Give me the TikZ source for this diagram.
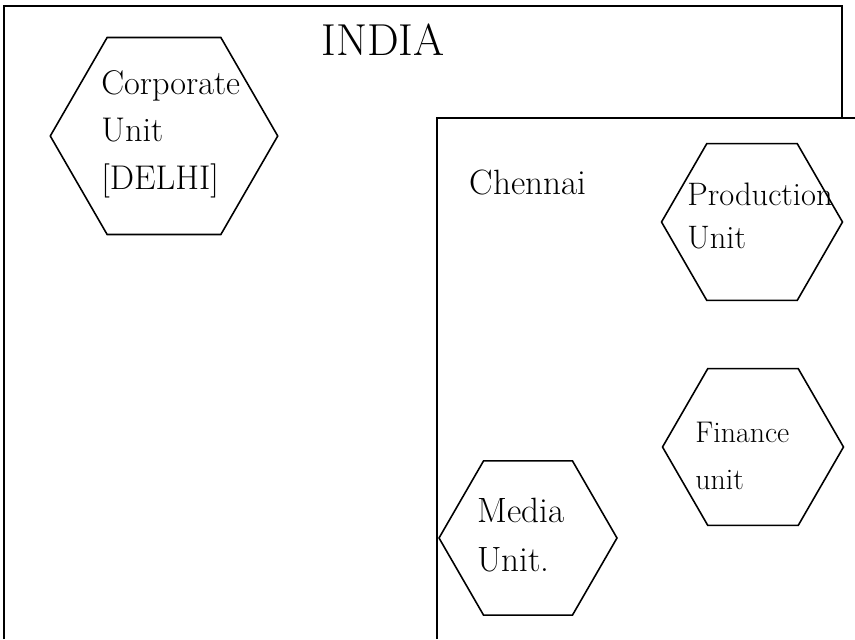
\documentclass[tikz,border=0pt]{standalone}
\usetikzlibrary{shapes.geometric}
\begin{document}
\begin{tikzpicture}[x=0.02cm,y=-0.02cm,
    hexa/.style={draw,line width=0.9pt,regular polygon,regular polygon sides=6,inner sep=0pt},
    unit/.style={anchor=west,align=left,inner sep=0pt},
    place/.style={font=\fontsize{#1}{28}\selectfont}]
  \useasboundingbox (0,0) rectangle (855,639);
  % country and city frames
  \draw[line width=1.2pt] (4,639)--(4,6)--(842,6)--(842,118);
  \draw[line width=1.2pt] (437,639)--(437,118)--(855,118);
  \node[place=25.5] (india) at (383,40) {INDIA};
  \node[place=20] (chennai) at (528,182) {Chennai};
  % units
  \node[hexa,minimum size=4.55cm] (corp) at (164,136) {};
  \node[hexa,minimum size=3.62cm] (prod) at (752,222) {};
  \node[hexa,minimum size=3.62cm] (fin) at (753,447) {};
  \node[hexa,minimum size=3.56cm] (media) at (528,538) {};
  \node[unit,font=\fontsize{19.5}{27}\selectfont] (corp-txt) at (101,134)
    {Corporate\\Unit\\{[DELHI]}};
  \node[unit,font=\fontsize{18.5}{24}\selectfont] (prod-txt) at (687,216)
    {Production\\Unit};
  \node[unit,font=\fontsize{17}{27}\selectfont] (fin-txt) at (695,456)
    {Finance\\unit};
  \node[unit,font=\fontsize{20}{28}\selectfont] (media-txt) at (477,535)
    {Media\\Unit.};
\end{tikzpicture}
\end{document}
